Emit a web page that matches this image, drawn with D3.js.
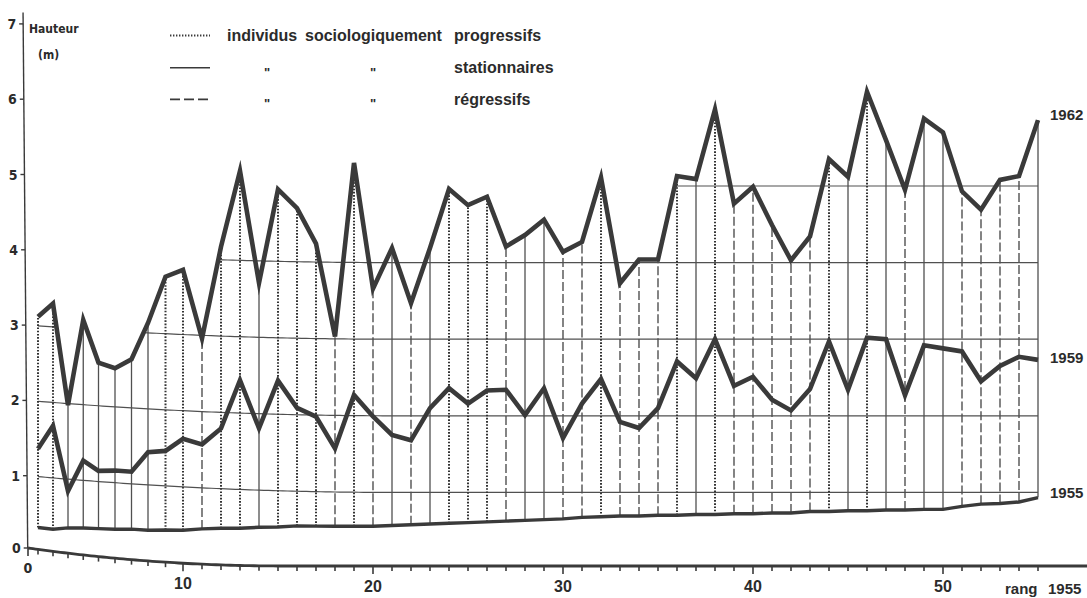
<!DOCTYPE html>
<html>
<head>
<meta charset="utf-8">
<script src="https://cdnjs.cloudflare.com/ajax/libs/d3/7.8.5/d3.min.js"></script>
<style>
html, body { margin: 0; padding: 0; background: #fff; overflow: hidden; }
svg { display: block; }
text { font-family: "Liberation Sans", Arial, sans-serif; font-weight: bold; fill: #2b2b2b; }
.cond { font-family: "DejaVu Sans Condensed", "DejaVu Sans", sans-serif; }
</style>
</head>
<body>
<script>
// hauteur (m) des individus, classés par rang 1955
const ranks = d3.range(1, 56)

const h1955 = [0.30, 0.30, 0.34, 0.36, 0.37, 0.38, 0.40, 0.40, 0.42, 0.43,
    0.46, 0.48, 0.49, 0.51, 0.52, 0.54, 0.54, 0.54, 0.54, 0.54,
    0.55, 0.56, 0.57, 0.58, 0.59, 0.60, 0.61, 0.62, 0.63, 0.64,
    0.66, 0.67, 0.68, 0.68, 0.69, 0.69, 0.70, 0.70, 0.71, 0.71,
    0.72, 0.72, 0.74, 0.74, 0.75, 0.75, 0.76, 0.76, 0.77, 0.77,
    0.81, 0.84, 0.85, 0.87, 0.93]

const h1959 = [1.37, 1.69, 0.84, 1.26, 1.14, 1.16, 1.16, 1.43, 1.46, 1.63,
    1.57, 1.79, 2.43, 1.81, 2.44, 2.09, 1.98, 1.57, 2.27, 1.99,
    1.75, 1.68, 2.10, 2.36, 2.16, 2.33, 2.34, 2.01, 2.36, 1.71,
    2.16, 2.48, 1.92, 1.84, 2.10, 2.71, 2.49, 3.00, 2.39, 2.51,
    2.21, 2.07, 2.35, 2.97, 2.34, 3.02, 3.00, 2.27, 2.92, 2.88,
    2.84, 2.45, 2.65, 2.77, 2.73]

const h1962 = [3.12, 3.31, 1.98, 3.12, 2.57, 2.51, 2.64, 3.13, 3.75, 3.85,
    2.96, 4.17, 5.17, 3.71, 4.94, 4.70, 4.24, 3.03, 5.30, 3.66,
    4.19, 3.47, 4.19, 4.96, 4.75, 4.86, 4.21, 4.36, 4.56, 4.14,
    4.27, 5.11, 3.73, 4.04, 4.04, 5.13, 5.09, 6.00, 4.77, 4.99,
    4.49, 4.03, 4.34, 5.35, 5.12, 6.23, 5.60, 4.95, 5.88, 5.70,
    4.93, 4.69, 5.08, 5.13, 5.86]

// p = progressif, s = stationnaire, r = régressif
const kind = ['p', 'p', 's', 's', 's', 's', 's', 's', 'p', 'p',
    'r', 'p', 'p', 's', 'p', 'p', 'p', 'r', 'p', 'r',
    's', 'r', 's', 'p', 'p', 'p', 'r', 's', 's', 'r',
    'r', 'p', 'r', 'r', 'r', 'p', 's', 'p', 'r', 'r',
    'r', 'r', 'r', 'p', 's', 'p', 's', 'r', 's', 's',
    'r', 'r', 'r', 'r', 's']

const yTicks = [0, 1, 2, 3, 4, 5, 6, 7]
const xTicks = d3.range(0, 56)
const xLabels = [10, 20, 30, 40, 50]

// horizontal reference lines : level, from rank, to rank
const refLines = [
    { v: 1, from: 1, to: 55 },
    { v: 2, from: 1, to: 55 },
    { v: 3, from: 1, to: 2.23 },
    { v: 3, from: 7.73, to: 55 },
    { v: 4, from: 11.86, to: 55 },
    { v: 5, from: 35.9, to: 55 }
]

const legendRows = [
    { kind: 'p', words: ['individus', 'sociologiquement', 'progressifs'] },
    { kind: 's', words: ['"', '"', 'stationnaires'] },
    { kind: 'r', words: ['"', '"', 'régressifs'] }
]

const series = [
    { label: '1962', values: h1962, w: 4.6, ly: 115 },
    { label: '1959', values: h1959, w: 4.6, ly: 358 },
    { label: '1955', values: h1955, w: 3.4, ly: 493 }
]

const w = 1087, h = 598
const ink = '#3a3a3a', thin = '#505050'

const dash = { p: '1.6,1.6', s: null, r: '9,3' }
const dashW = { p: 2, s: 1.3, r: 1.4 }

// the printed page is not flat: ranks are squeezed on the left
const x = d3.scaleLinear()
    .domain([0, 1, 3, 5, 8, 10, 55])
    .range([28, 38, 68, 98.5, 148, 183, 1038])

const y = d3.scaleLinear()
    .domain([0, 1, 5])
    .range([566, 492.4, 186])

// ... and the bottom left corner is lifted
function warp(px, v) {
    let W = 255 + 110 * Math.min(Math.max(v, 0), 1)
    let t = Math.max(0, 1 - (px - 28) / W)
    return [px, y(v) - t * t * (18 - 1.3 * v)]
}

function pt(r, v) {
    return warp(x(r), v)
}

function axisX(v) {
    return 27.7 - 0.65 * v
}

function sample(from, to, step) {
    let rs = d3.range(from, to, step)
    rs.push(to)
    return rs
}

const line = d3.line()

const svg = d3.select('body').append('svg')
    .attr('width', w)
    .attr('height', h)

// reference lines
refLines.forEach((g) => {
    svg.append('path')
        .attr('d', line(sample(g.from, g.to, 0.25).map((r) => pt(r, g.v))))
        .attr('fill', 'none')
        .attr('stroke', thin)
        .attr('stroke-width', 1.2)
})

// individual verticals 1955 -> 1962
svg.append('g').selectAll('line')
    .data(ranks)
    .join('line')
    .attr('x1', (r, i) => pt(r, h1955[i])[0])
    .attr('y1', (r, i) => pt(r, h1955[i])[1])
    .attr('x2', (r, i) => pt(r, h1962[i])[0])
    .attr('y2', (r, i) => pt(r, h1962[i])[1])
    .attr('stroke', (r, i) => kind[i] === 'p' ? '#333' : thin)
    .attr('stroke-width', (r, i) => dashW[kind[i]])
    .attr('stroke-dasharray', (r, i) => dash[kind[i]])

// series
series.forEach((s) => {
    svg.append('path')
        .attr('d', line(ranks.map((r, i) => pt(r, s.values[i]))))
        .attr('fill', 'none')
        .attr('stroke', ink)
        .attr('stroke-width', s.w)
        .attr('stroke-linejoin', 'miter')
        .attr('stroke-miterlimit', 6)

    svg.append('text')
        .attr('x', 1050).attr('y', s.ly + 5)
        .attr('font-size', 15)
        .text(s.label)
})

// y axis
svg.append('line')
    .attr('x1', axisX(0)).attr('y1', pt(0, 0)[1])
    .attr('x2', axisX(7.15)).attr('y2', pt(0, 7.15)[1])
    .attr('stroke', ink)
    .attr('stroke-width', 1.4)

svg.append('g').selectAll('line')
    .data(yTicks)
    .join('line')
    .attr('x1', (v) => axisX(v) - 4)
    .attr('x2', (v) => axisX(v))
    .attr('y1', (v) => pt(0, v)[1])
    .attr('y2', (v) => pt(0, v)[1])
    .attr('stroke', ink)
    .attr('stroke-width', 1.4)

svg.append('g').selectAll('text')
    .data(yTicks)
    .join('text')
    .attr('class', 'cond')
    .attr('x', (v) => axisX(v) - 7)
    .attr('y', (v) => pt(0, v)[1] + 5)
    .attr('text-anchor', 'end')
    .attr('font-size', 14)
    .text((v) => v)

svg.append('text').attr('class', 'cond')
    .attr('x', 29).attr('y', 33).attr('font-size', 12)
    .text('Hauteur')
svg.append('text').attr('class', 'cond')
    .attr('x', 38).attr('y', 59).attr('font-size', 12)
    .text('(m)')

// x axis
const axisPts = sample(0, x.invert(w), 0.25).map((r) => pt(r, 0))
svg.append('path')
    .attr('d', line(axisPts))
    .attr('fill', 'none')
    .attr('stroke', ink)
    .attr('stroke-width', 2.8)

svg.append('g').selectAll('line')
    .data(xTicks)
    .join('line')
    .attr('x1', (r) => pt(r, 0)[0])
    .attr('x2', (r) => pt(r, 0)[0])
    .attr('y1', (r) => pt(r, 0)[1])
    .attr('y2', (r) => pt(r, 0)[1] + (r % 10 === 0 ? 8 : 5))
    .attr('stroke', ink)
    .attr('stroke-width', 1.6)

svg.append('g').selectAll('text')
    .data(xLabels)
    .join('text')
    .attr('x', (r) => pt(r, 0)[0])
    .attr('y', (r) => pt(r, 0)[1] + 26)
    .attr('text-anchor', 'middle')
    .attr('font-size', 16)
    .text((r) => r)

svg.append('text')
    .attr('class', 'cond')
    .attr('x', pt(0, 0)[0])
    .attr('y', pt(0, 0)[1] + 25)
    .attr('text-anchor', 'middle')
    .attr('font-size', 14)
    .text('0')

svg.append('text')
    .attr('x', 1005).attr('y', 594)
    .attr('font-size', 15)
    .text('rang')
svg.append('text')
    .attr('x', 1048).attr('y', 594)
    .attr('font-size', 15)
    .text('1955')

// legend
const rowY = [35.5, 67.7, 99.3]
const wordX = [227, 305, 454]
const dittoX = [267, 373]
legendRows.forEach((row, k) => {
    svg.append('line')
        .attr('x1', 170).attr('x2', 210)
        .attr('y1', rowY[k]).attr('y2', rowY[k])
        .attr('stroke', ink)
        .attr('stroke-width', row.kind === 's' ? 1.6 : 1.8)
        .attr('stroke-dasharray', row.kind === 'p' ? '1.4,1.6' : row.kind === 'r' ? '10,4' : null)
    row.words.forEach((wd, j) => {
        let ditto = wd === '"'
        svg.append('text')
            .attr('x', ditto ? dittoX[j] : wordX[j])
            .attr('y', rowY[k] + (ditto ? 9 : 5.5))
            .attr('text-anchor', ditto ? 'middle' : 'start')
            .attr('font-size', ditto ? 13 : 16)
            .text(wd)
    })
})
</script>
</body>
</html>
